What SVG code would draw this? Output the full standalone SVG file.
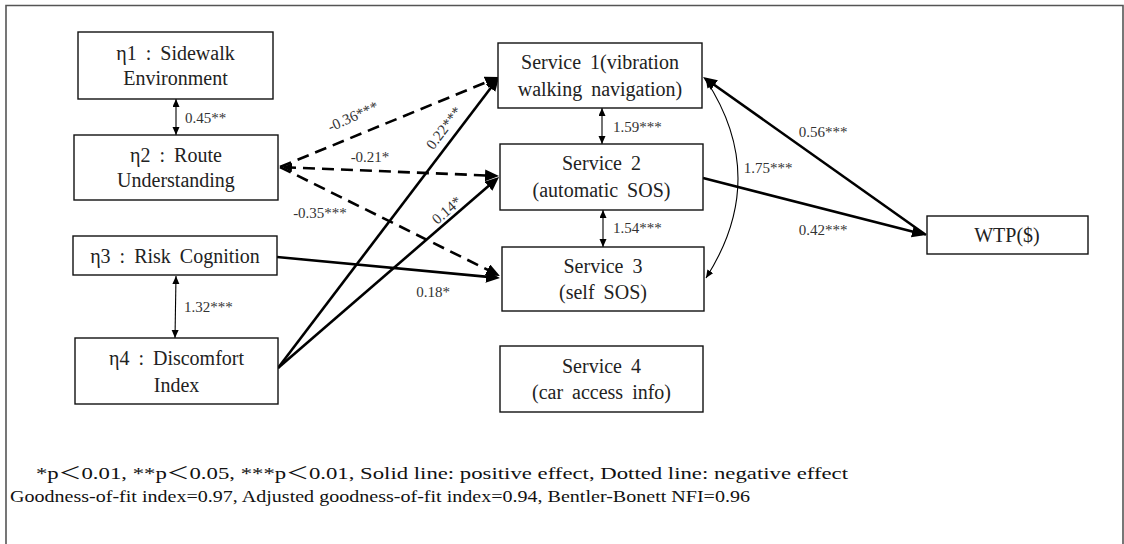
<svg xmlns="http://www.w3.org/2000/svg" width="1124" height="544" viewBox="0 0 1124 544">
<style>
  .box { fill: #fff; stroke: #111; stroke-width: 1.4; }
  .t { font-family: "Liberation Serif", "Times New Roman", serif; font-size: 20px; fill: #222; text-anchor: middle; word-spacing: 4px; }
  .lab { font-family: "Liberation Serif", "Times New Roman", serif; font-size: 15px; fill: #333; }
  .foot { font-family: "Liberation Serif", "Times New Roman", "Noto Sans CJK KR", serif; font-size: 17px; fill: #111; }
  .solid { fill: none; stroke: #000; stroke-width: 2.6; marker-end: url(#big); }
  .dash { fill: none; stroke: #000; stroke-width: 2.6; stroke-dasharray: 12 7; marker-end: url(#big); }
  .thin { fill: none; stroke: #000; stroke-width: 1.1; marker-start: url(#small); marker-end: url(#small); }
</style>
<defs>
  <marker id="big" markerUnits="userSpaceOnUse" markerWidth="16" markerHeight="14" refX="10" refY="6" orient="auto">
    <path d="M0,0 L14,6 L0,12 z" fill="#000"/>
  </marker>
  <marker id="small" markerUnits="userSpaceOnUse" markerWidth="10" markerHeight="8" refX="8" refY="3.5" orient="auto-start-reverse">
    <path d="M0,0 L8,3.5 L0,7 z" fill="#000"/>
  </marker>
  <marker id="head" markerUnits="userSpaceOnUse" markerWidth="12" markerHeight="12" refX="8" refY="4.5" orient="auto-start-reverse">
    <path d="M0,0 L9,4.5 L0,9 z" fill="#000"/>
  </marker>
</defs>

<path id="frame" d="M6,560 L6,5.5 L1123,5.5 L1123,560" fill="none" stroke="#555" stroke-width="1.6"/>

<g id="connectors">
  <path class="dash" d="M280,167 L495.3,78.5"/>
  <path class="dash" d="M284,167.2 L495,175.8" style="marker-start:url(#head)"/>
  <path class="dash" d="M280,167 L496.4,274.2"/>
  <path class="solid" d="M277,257 L496,277.6"/>
  <path class="solid" d="M278,368 L496.6,80.2"/>
  <path class="solid" d="M278,368 L496,179.6"/>
  <path class="solid" d="M703,178 L922.1,234"/>
  <path class="solid" d="M926,235 L706.3,79.3"/>
  <path class="thin" d="M176,99 L176,135"/>
  <path class="thin" d="M602,108 L602,144"/>
  <path class="thin" d="M603,210 L603,247"/>
  <path class="thin" d="M176,276 L175,338"/>
  <path class="thin" d="M706,80 Q770,178 706,278"/>
</g>

<g id="labels">
  <text class="lab" x="185" y="123">0.45**</text>
  <text class="lab" x="184" y="312">1.32***</text>
  <text class="lab" x="613" y="132">1.59***</text>
  <text class="lab" x="613" y="233">1.54***</text>
  <text class="lab" x="768" y="173" text-anchor="middle">1.75***</text>
  <text class="lab" x="823" y="137" text-anchor="middle">0.56***</text>
  <text class="lab" x="823" y="235" text-anchor="middle">0.42***</text>
  <text class="lab" x="370" y="162" text-anchor="middle">-0.21*</text>
  <text class="lab" x="320" y="218" text-anchor="middle">-0.35***</text>
  <text class="lab" x="433" y="297" text-anchor="middle">0.18*</text>
  <text class="lab" text-anchor="middle" transform="translate(355,121) rotate(-24)">-0.36***</text>
  <text class="lab" text-anchor="middle" transform="translate(448,131) rotate(-53)">0.22***</text>
  <text class="lab" text-anchor="middle" transform="translate(450,214) rotate(-41)">0.14*</text>
</g>

<g id="eta1">
  <rect class="box" x="78" y="32" width="195" height="67"/>
  <text class="t" x="175.5" y="60">η1 : Sidewalk</text>
  <text class="t" x="175.5" y="85">Environment</text>
</g>
<g id="eta2">
  <rect class="box" x="74" y="135" width="204" height="65"/>
  <text class="t" x="176" y="162">η2 : Route</text>
  <text class="t" x="176" y="187">Understanding</text>
</g>
<g id="eta3">
  <rect class="box" x="73" y="236" width="204" height="39"/>
  <text class="t" x="175" y="263">η3 : Risk Cognition</text>
</g>
<g id="eta4">
  <rect class="box" x="75" y="338" width="203" height="66"/>
  <text class="t" x="176.5" y="365">η4 : Discomfort</text>
  <text class="t" x="176.5" y="392">Index</text>
</g>
<g id="service1">
  <rect class="box" x="498" y="43" width="204" height="65"/>
  <text class="t" x="600" y="69">Service 1(vibration</text>
  <text class="t" x="600" y="96">walking navigation)</text>
</g>
<g id="service2">
  <rect class="box" x="500" y="144" width="203" height="66"/>
  <text class="t" x="601.5" y="170">Service 2</text>
  <text class="t" x="601.5" y="197">(automatic SOS)</text>
</g>
<g id="service3">
  <rect class="box" x="502" y="247" width="202" height="64"/>
  <text class="t" x="603" y="273">Service 3</text>
  <text class="t" x="603" y="299">(self SOS)</text>
</g>
<g id="service4">
  <rect class="box" x="500" y="346" width="203" height="66"/>
  <text class="t" x="601.5" y="373">Service 4</text>
  <text class="t" x="601.5" y="399">(car access info)</text>
</g>
<g id="wtp">
  <rect class="box" x="927" y="216" width="161" height="38"/>
  <text class="t" x="1007" y="242">WTP($)</text>
</g>

<g id="footer">
  <text class="foot" x="36" y="479" textLength="812" lengthAdjust="spacingAndGlyphs">*p＜0.01, **p＜0.05, ***p＜0.01,   Solid line: positive effect, Dotted line: negative effect</text>
  <text class="foot" x="10" y="502" textLength="740" lengthAdjust="spacingAndGlyphs">Goodness-of-fit index=0.97, Adjusted goodness-of-fit index=0.94, Bentler-Bonett NFI=0.96</text>
</g>
</svg>
